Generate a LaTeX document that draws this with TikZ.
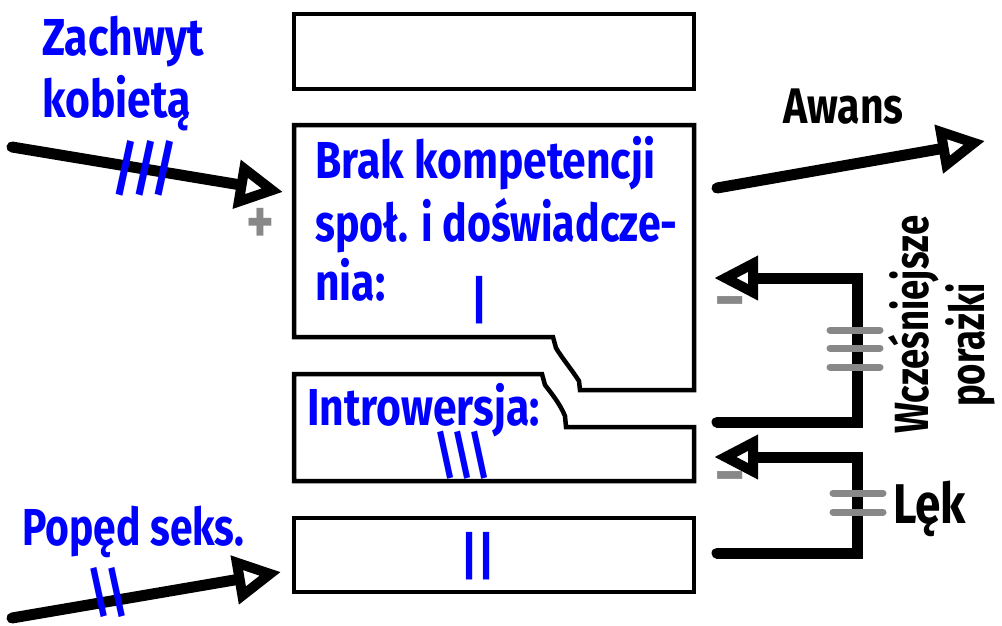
\documentclass[tikz,border=0pt]{standalone}
\usepackage{fontspec}
\setmainfont{Fira Sans}[FakeStretch=0.82]
\usetikzlibrary{arrows.meta}
\definecolor{tickgray}{HTML}{888888}
\begin{document}
\begin{tikzpicture}[x=1pt,y=-1pt,
  box/.style={draw=black,line width=4.5pt,line join=miter},
  lab/.style={font=\bfseries\fontsize{52}{60}\selectfont,inner sep=0pt,anchor=base west},
  bl/.style={lab,text=blue},
  blk/.style={lab,text=black},
  arr/.style={line width=11pt,line cap=round,-{Triangle[open,length=47pt,width=47pt,line width=10pt]}},
  fb/.style={line width=11pt,line cap=round,line join=miter,-{Triangle[open,length=44pt,width=42pt,line width=10pt]}},
  tickmark/.style={draw=tickgray,line width=7pt,line cap=round},
  sign/.style={text=tickgray,font=\bfseries\fontsize{64}{66}\selectfont,inner sep=0pt}]
\useasboundingbox (0,0) rectangle (1002,625);
% boxes
\draw[box] (294,14) rectangle (694,89);
\draw[box] (294,125) -- (694,125) -- (694,390) -- (580,390) -- (579,381)
  .. controls (572,370) and (562,358) .. (556,348) -- (553,337) -- (294,337) -- cycle;
\draw[box] (294,374) -- (542,374) -- (545,385)
  .. controls (552,394) and (560,404) .. (565,416) -- (566,427) -- (694,427) -- (694,481) -- (294,481) -- cycle;
\draw[box] (294,518) rectangle (694,592);
% box texts
\node[bl] (brak1) at (315,178) {Brak kompetencji};
\node[bl] (brak2) at (315,241) {\addfontfeature{FakeStretch=0.79}społ. i doświadcze-};
\node[bl] (brak3) at (315,300) {nia:};
\node[bl,anchor=center] (brakv) at (480,300) {|};
\node[bl] (intro) at (307,425) {Introwersja:};
\node[bl,anchor=center] (introv) at (463,455) {\textbackslash\textbackslash\textbackslash};
\node[bl,anchor=center] (popedv) at (478,556) {||};
% left labels
\node[bl] (zach1) at (42,55) {Zachwyt};
\node[bl] (zach2) at (42,117) {kobietą};
\node[bl] (pop) at (22,545) {\addfontfeature{FakeStretch=0.785}Popęd seks.};
% arrows
\coordinate (zs) at (12,147);
\coordinate (ze) at (283,192);
\draw[arr] (zs) -- (ze);
\node[bl,anchor=center,font=\bfseries\fontsize{60}{60}\selectfont] (zslash) at (145,168) {///};
\node[sign] (plus) at (260,226) {+};
\coordinate (ps) at (12,618);
\coordinate (pe) at (281,572);
\draw[arr] (ps) -- (pe);
\node[bl,anchor=center,font=\bfseries\fontsize{54}{60}\selectfont] (pslash) at (108,592) {\textbackslash\textbackslash};
\coordinate (as) at (717,188);
\coordinate (ae) at (985,141);
\draw[arr] (as) -- (ae);
\node[blk,font=\bfseries\fontsize{50}{54}\selectfont] (awans) at (783,123) {Awans};
% feedback loops
\coordinate (f1s) at (717,422);
\coordinate (f1c) at (857,278);
\coordinate (f1e) at (714,278);
\draw[fb] (f1s) -| (f1c) -- (f1e);
\coordinate (f2s) at (717,553);
\coordinate (f2c) at (857,457);
\coordinate (f2e) at (714,457);
\draw[fb] (f2s) -| (f2c) -- (f2e);
\foreach \y in {330,348,367} \draw[tickmark] (830,\y) -- (880,\y);
\foreach \y in {493,512} \draw[tickmark] (833,\y) -- (883,\y);
\node[sign] (m1) at (730,309) {–};
\node[sign] (m2) at (730,484) {–};
\node[blk,font=\bfseries\fontsize{56}{60}\selectfont] (lek) at (893,523) {Lęk};
\node[blk,font=\bfseries\fontsize{48}{54}\selectfont\addfontfeature{FakeStretch=0.76},rotate=90,anchor=base west] (wcz) at (928,434) {Wcześniejsze};
\node[blk,font=\bfseries\fontsize{48}{54}\selectfont\addfontfeature{FakeStretch=0.76},rotate=90,anchor=base west] (por) at (984,407) {porażki};
\end{tikzpicture}
\end{document}
